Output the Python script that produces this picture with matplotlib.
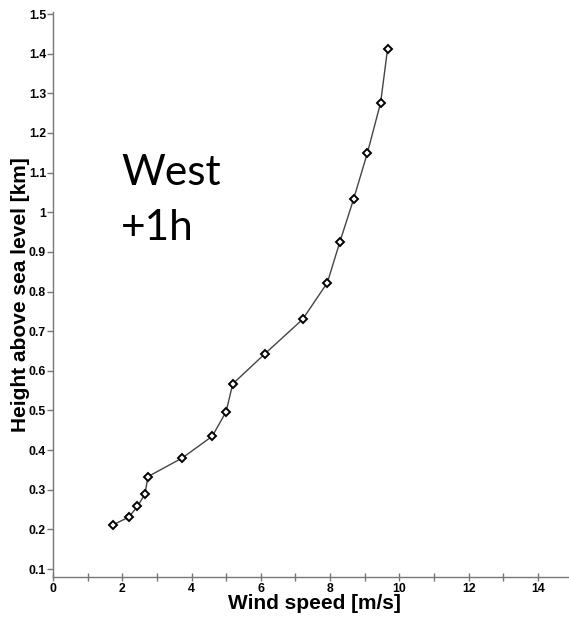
import matplotlib
matplotlib.use("Agg")
import matplotlib.pyplot as plt
from matplotlib.ticker import MultipleLocator

wind_speed = [1.72, 2.19, 2.44, 2.66, 2.74, 3.73, 4.60, 5.00, 5.19, 6.12,
              7.21, 7.92, 8.28, 8.68, 9.08, 9.46, 9.66]
height_km = [0.211, 0.231, 0.258, 0.290, 0.333, 0.380, 0.435, 0.497, 0.567, 0.643,
             0.730, 0.822, 0.924, 1.033, 1.150, 1.276, 1.411]
x_ticks = [0, 2, 4, 6, 8, 10, 12, 14]
y_ticks = [0.1, 0.2, 0.3, 0.4, 0.5, 0.6, 0.7, 0.8, 0.9, 1.0, 1.1, 1.2, 1.3, 1.4, 1.5]
y_tick_labels = ["0.1", "0.2", "0.3", "0.4", "0.5", "0.6", "0.7", "0.8", "0.9", "1",
                 "1.1", "1.2", "1.3", "1.4", "1.5"]
annotation_lines = ["West", "+1h"]

fig = plt.figure(figsize=(5.69, 6.20), dpi=100)
ax = fig.add_axes([0.0931, 0.0694, 0.9069, 0.9112])

ax.plot(wind_speed, height_km, color="#444444", lw=1.0,
        marker="D", markersize=4.3, markerfacecolor="white",
        markeredgecolor="black", markeredgewidth=1.4)

ax.set_xlim(0, 14.9)
ax.set_ylim(0.08, 1.505)
ax.set_xticks(x_ticks)
ax.xaxis.set_minor_locator(MultipleLocator(1))
ax.set_yticks(y_ticks)
ax.set_yticklabels(y_tick_labels)

for s in ["top", "right"]:
    ax.spines[s].set_visible(False)
for s in ["left", "bottom"]:
    ax.spines[s].set_color("#777777")
    ax.spines[s].set_linewidth(1.0)

ax.tick_params(axis="x", which="both", direction="inout", length=6, width=1,
               color="#777777", pad=1)
ax.tick_params(axis="y", which="major", direction="out", length=4, width=1,
               color="#777777", pad=1)
for lab in ax.get_xticklabels() + ax.get_yticklabels():
    lab.set_fontfamily("Liberation Sans")
    lab.set_fontweight("bold")
    lab.set_fontsize(8.8)

ax.set_xlabel("Wind speed [m/s]", fontfamily="Liberation Sans", fontweight="bold",
              fontsize=15)
ax.xaxis.set_label_coords(0.506, -0.031, transform=ax.transAxes)
ax.xaxis.label.set_va("top")
ax.set_ylabel("Height above sea level [km]", fontfamily="Liberation Sans",
              fontweight="bold", fontsize=15, labelpad=-1)

baselines = [185, 240]
for line, yb in zip(annotation_lines, baselines):
    fig.text(121 / 569, 1 - yb / 620, line, fontfamily="Lato", fontsize=30.5,
             color="black", va="baseline", ha="left")

fig.savefig("out.png", dpi=100)
